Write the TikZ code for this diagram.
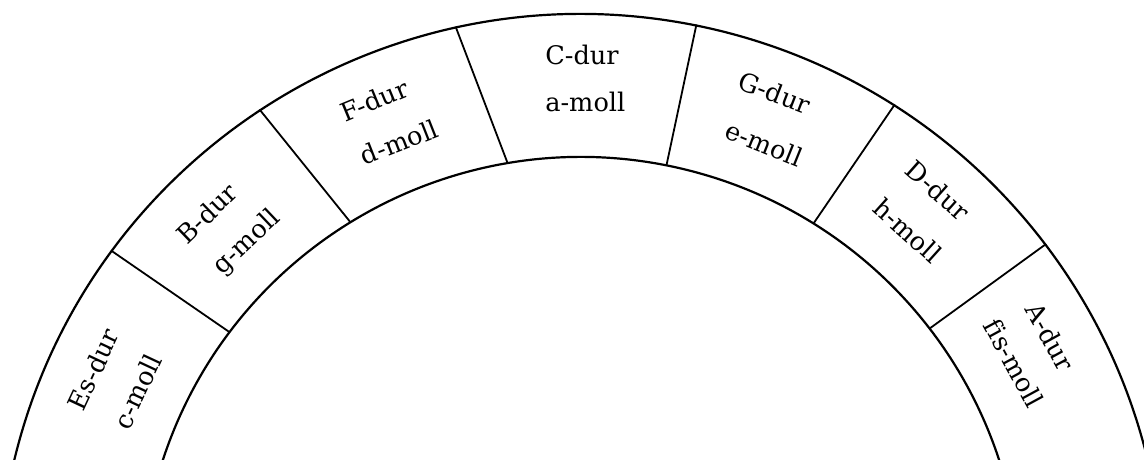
\documentclass[tikz,border=0pt]{standalone}
\usepackage{fontspec}
\newfontfamily\keyfont[Ligatures=NoCommon]{DejaVu Serif}

\tikzset{
  keylabel/.style={inner sep=0.75pt, font=\keyfont\fontsize{12.8}{15}\selectfont},
  ring/.style={line width=1.1pt},
  divider/.style={line width=0.9pt}
}

\begin{document}
\begin{tikzpicture}[x=0.5pt,y=0.5pt]
\useasboundingbox (-581,137) rectangle (563,597);
\clip (-581,137) rectangle (563,597);
%Shape: Arc [outer]
\draw [ring] (169:583) arc [start angle=169, end angle=11, radius=583];
%Shape: Arc [inner]
\draw [ring] (163:440) arc [start angle=163, end angle=17, radius=440];

%Straight Lines [Es | B]
\draw [divider] (143:440) -- (143.6:584);
%Straight Lines [B | F]
\draw [divider] (121.6:440) -- (123.4:584);
%Straight Lines [F | C]
\draw [divider] (99.6:440) -- (102.4:584);
%Straight Lines [C | G]
\draw [divider] (78.8:440) -- (78.6:584);
%Straight Lines [G | D]
\draw [divider] (58.1:440) -- (57.5:584);
%Straight Lines [D | A]
\draw [divider] (37.6:440) -- (37.2:584);

% Text Node
\node (esdur) [keylabel, rotate=65] at (155:538) {Es-dur};
% Text Node
\node (cmoll) [keylabel, rotate=65] at (155.2:489) {c-moll};
% Text Node
\node (bdur) [keylabel, rotate=44] at (134.3:536) {B-dur};
% Text Node
\node (gmoll) [keylabel, rotate=43.5] at (133.3:487) {g-moll};
% Text Node
\node (fdur) [keylabel, rotate=22.5] at (112.6:538) {F-dur};
% Text Node
\node (dmoll) [keylabel, rotate=21.5] at (111.8:490) {d-moll};
% Text Node
\node (cdur) [keylabel] at (89.9:542) {C-dur};
% Text Node
\node (amoll) [keylabel] at (89.5:495) {a-moll};
% Text Node
\node (gdur) [keylabel, rotate=-21] at (69:540) {G-dur};
% Text Node
\node (emoll) [keylabel, rotate=-22] at (68:489) {e-moll};
% Text Node
\node (ddur) [keylabel, rotate=-41.5] at (48.7:541) {D-dur};
% Text Node
\node (hmoll) [keylabel, rotate=-42] at (48.3:491) {h-moll};
% Text Node
\node (adur) [keylabel, rotate=-61] at (29:537) {A-dur};
% Text Node
\node (fismoll) [keylabel, rotate=-61.5] at (28.4:492) {fis-moll};
\end{tikzpicture}
\end{document}
